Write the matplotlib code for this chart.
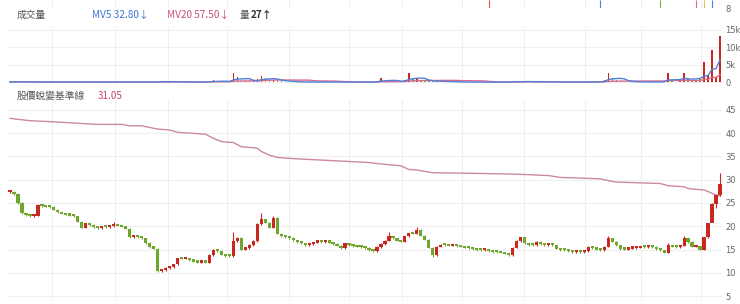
import numpy as np
import pandas as pd
import matplotlib
matplotlib.use('Agg')
import matplotlib.pyplot as plt

# 收盤價 (每根K棒)
close = [27.4, 26.9, 25.0, 22.8, 22.4, 22.1, 22.3, 24.6, 24.3, 24.2,
         24.1, 23.6, 23.0, 22.7, 22.5, 22.3, 22.1, 21.0, 19.7, 20.6,
         20.3, 19.8, 19.6, 19.9, 19.8, 20.0, 20.4, 20.1, 19.9, 19.5,
         17.6, 17.7, 17.6, 17.4, 16.4, 15.5, 15.2, 10.3, 10.5, 11.0,
         11.2, 11.8, 13.1, 13.0, 13.1, 12.7, 12.4, 12.2, 12.3, 12.2,
         13.8, 14.9, 14.6, 13.9, 13.6, 13.5, 16.8, 17.5, 15.0, 15.3,
         16.0, 16.8, 20.5, 21.5, 20.8, 19.7, 21.8, 18.4, 17.9, 17.6,
         17.5, 17.0, 16.6, 16.3, 16.0, 16.2, 16.5, 16.7, 16.6, 16.7,
         16.5, 16.2, 15.8, 15.3, 16.3, 16.0, 15.7, 15.6, 15.5, 15.3,
         14.8, 14.6, 15.5, 16.2, 16.9, 17.8, 17.4, 16.9, 16.7, 17.8,
         18.5, 18.4, 19.2, 18.0, 17.1, 15.4, 13.8, 15.6, 16.0, 15.9,
         15.8, 15.8, 15.7, 15.6, 15.4, 15.3, 15.1, 14.9, 14.8, 14.9,
         14.6, 14.5, 14.4, 14.3, 14.1, 13.8, 15.4, 16.8, 17.6, 16.3,
         16.0, 15.9, 16.6, 16.2, 16.0, 16.2, 15.9, 15.2, 14.9, 14.8,
         14.6, 14.5, 14.5, 14.4, 14.6, 15.5, 15.3, 15.0, 14.9, 15.6,
         17.4, 16.7, 15.9, 15.1, 15.0, 15.2, 15.3, 15.4, 15.6, 15.5,
         15.6, 15.5, 15.1, 14.8, 14.3, 15.9, 15.6, 15.5, 15.8, 17.4,
         16.6, 15.6, 15.7, 15.0, 17.6, 20.6, 24.8, 26.7, 29.0]

# 上影線 / 下影線
spike_idx = [26, 56, 63, 66, 95, 102, 150, 165, 169, 178]
spike_high = [21.0, 18.8, 22.8, 22.1, 18.8, 19.9, 17.8, 16.4, 17.8, 31.4]
dip_idx = [106, 176, 177]
dip_low = [13.4, 23.4, 24.0]

# 股價蛻變基準線
base_idx = [0, 5, 10, 18, 22, 28, 30, 33, 37, 40, 42, 49, 51, 53, 56, 58,
            62, 63, 65, 67, 72, 81, 90, 93, 98, 100, 102, 106, 115, 127,
            135, 138, 148, 150, 152, 163, 165, 169, 170, 174, 176, 177, 178]
base_val = [43.2, 42.7, 42.5, 42.1, 41.9, 41.9, 41.6, 41.6, 40.9, 40.7, 40.2,
            39.8, 38.9, 38.2, 38.0, 37.1, 36.8, 36.1, 35.3, 34.8, 34.5, 34.1,
            33.7, 33.4, 33.0, 32.2, 32.1, 31.5, 31.4, 31.2, 30.9, 30.5, 30.2,
            29.8, 29.5, 29.2, 28.7, 28.5, 28.1, 27.8, 27.1, 26.7, 26.5]

# 成交量
volume = [120, 90, 150, 110, 80, 70, 60, 130, 90, 70,
          60, 50, 60, 70, 50, 40, 50, 90, 110, 80,
          60, 50, 40, 50, 60, 50, 140, 70, 50, 60,
          150, 80, 60, 50, 90, 120, 100, 260, 150, 110,
          90, 100, 200, 120, 80, 60, 60, 50, 60, 70,
          420, 600, 250, 150, 120, 110, 2700, 1500, 500, 300,
          250, 300, 900, 1800, 1200, 600, 700, 500, 300, 200,
          150, 120, 100, 90, 80, 80, 90, 80, 70, 70,
          60, 60, 70, 90, 100, 80, 60, 50, 50, 60,
          80, 90, 300, 1200, 500, 400, 300, 200, 150, 700,
          2700, 1300, 900, 400, 300, 350, 400, 300, 200, 150,
          120, 100, 90, 80, 70, 70, 60, 60, 60, 50,
          50, 50, 50, 60, 60, 80, 250, 300, 200, 150,
          150, 120, 150, 120, 100, 90, 90, 80, 70, 60,
          60, 60, 50, 60, 60, 150, 120, 100, 90, 800,
          2700, 1200, 600, 300, 200, 150, 120, 100, 100, 90,
          80, 80, 90, 150, 300, 2700, 300, 200, 250, 2600,
          1200, 500, 300, 900, 5900, 2200, 9300, 1500, 13200]

grid_idx = [10.5, 26.25, 39.5, 54.5, 70, 85, 98.25, 113.25, 128.75, 144.25, 158.25, 173.25]
price_ticks = [5, 10, 15, 20, 25, 30, 35, 40, 45]
vol_ticks = [0, 5000, 10000, 15000]
vol_labels = ['0', '5k', '10k', '15k']

# 上方指標區塊 (只露出底部)
top_idx = [120, 148, 163, 172, 174, 176]
top_colors = ['#d9534f', '#4f7fd9', '#7cb342', '#d96b8e', '#e8c24a', '#4f7fd9']

UP = '#c8281f'
DOWN = '#6fa72c'
GRID = '#efefef'
TXT = '#666666'
CJK = ['Noto Sans CJK TC', 'DejaVu Sans']

W, H = 740, 304
RIGHT = 722
fig = plt.figure(figsize=(W / 100, H / 100), dpi=100)


def px_axes(left, top, right, bottom):
    return fig.add_axes([left / W, 1 - bottom / H, (right - left) / W, (bottom - top) / H])


def style(ax):
    for s in ax.spines.values():
        s.set_visible(False)
    ax.set_xlim(-0.5, 178.5)
    ax.set_xticks([])
    ax.yaxis.tick_right()
    ax.tick_params(axis='y', length=0, pad=2.5, labelsize=6.0, labelcolor=TXT)
    for g in grid_idx:
        ax.axvline(g, color=GRID, lw=0.8, zorder=0)


x = np.arange(len(close))
c = np.array(close)
o = np.r_[c[0], c[:-1]]
hi = np.maximum(o, c) + 0.15
lo = np.minimum(o, c) - 0.15
hi[spike_idx] = spike_high
lo[dip_idx] = dip_low
colors = [UP if cc >= oo else DOWN for oo, cc in zip(o, c)]

# 上方殘留區塊
ax0 = px_axes(8, 0, RIGHT, 8)
style(ax0)
ax0.set_ylim(8, 30)
ax0.set_yticks([8])
ax0.vlines(top_idx, 8, 30, colors=top_colors, lw=0.8)

# 成交量
vol = pd.Series(volume, dtype=float)
mv5 = vol.rolling(5, min_periods=1).mean()
mv20 = vol.rolling(20, min_periods=1).mean()
ax1 = px_axes(8, 27, RIGHT, 84)
style(ax1)
ax1.set_ylim(-490, 15860)
ax1.set_yticks(vol_ticks)
ax1.set_yticklabels(vol_labels)
for t in vol_ticks:
    ax1.axhline(t, color=GRID, lw=0.8, zorder=0)
ax1.bar(x, vol, width=0.35, color=colors, zorder=2)
ax1.plot(x, mv20, color='#d96b8e', lw=1.0, zorder=3)
ax1.plot(x, mv5, color='#4f7fd9', lw=1.0, zorder=4)

# 股價
ax2 = px_axes(8, 100, RIGHT, 300)
style(ax2)
ax2.set_ylim(4.14, 47.15)
ax2.set_yticks(price_ticks)
for t in price_ticks:
    ax2.axhline(t, color=GRID, lw=0.8, zorder=0)
ax2.plot(base_idx, base_val, color='#cc8a9c', lw=1.0, zorder=2)
ax2.vlines(x, lo, hi, colors=colors, lw=0.8, zorder=3)
body_lo = np.minimum(o, c)
body_h = np.maximum(np.abs(c - o), 0.45)
ax2.bar(x, body_h, bottom=body_lo, width=0.8, color=colors, zorder=4)

# 標題文字
def ftext(px, py, s, color, size=7, weight='normal'):
    fig.text(px / W, 1 - py / H, s, color=color, fontsize=size, family=CJK,
             va='center', ha='left', weight=weight)


ftext(17, 15, '成交量', '#555555')
ftext(92, 15, 'MV5 32.80↓', '#3c74d2', 7.2)
ftext(167, 15, 'MV20 57.50↓', '#c8507a', 7.2)
ftext(240, 15, '量', '#555555')
ftext(251, 15, '27↑', '#333333', 7.2, 'bold')
ftext(17, 96, '股價蛻變基準線', '#555555')
ftext(98, 96, '31.05', '#c2476f', 7.2)

fig.savefig('out.png', dpi=100)
